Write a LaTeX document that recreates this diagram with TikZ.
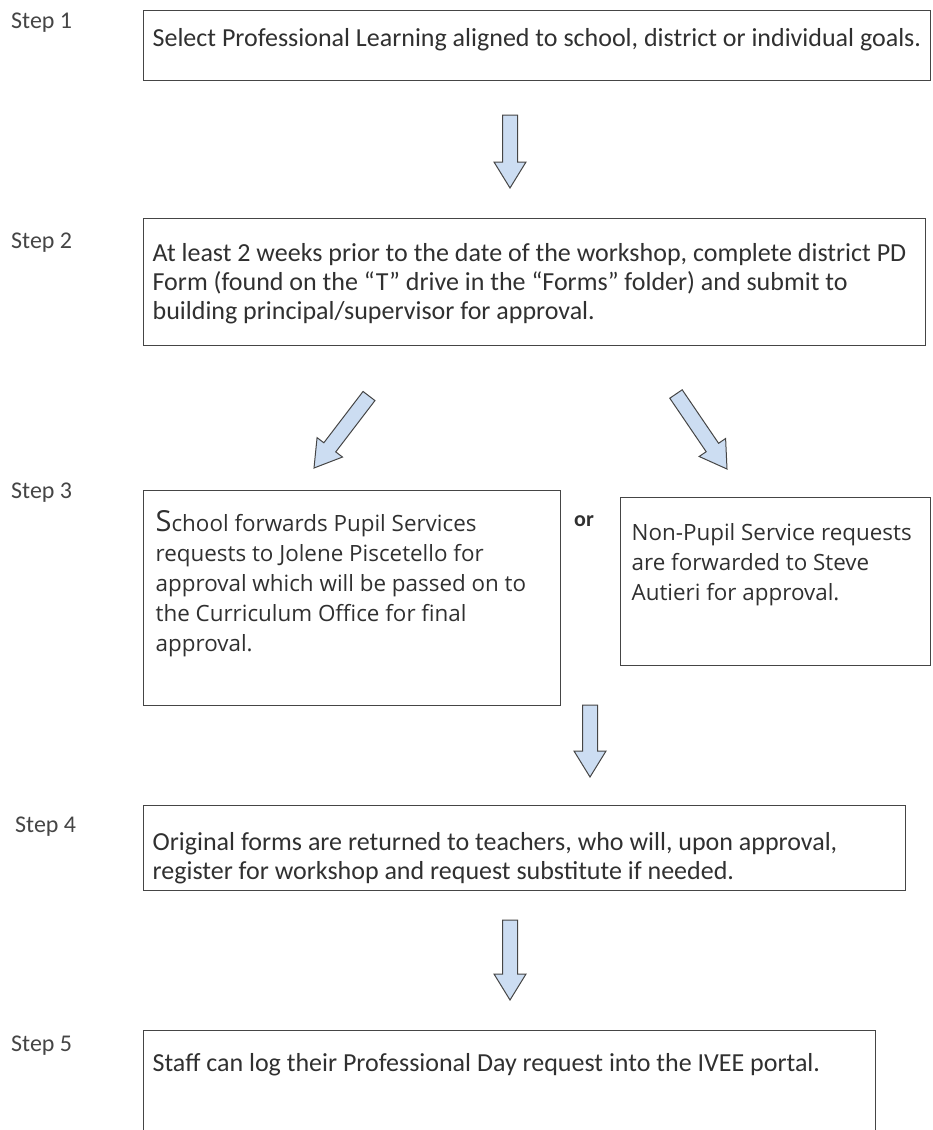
\documentclass[tikz,border=0pt]{standalone}
\usepackage{fontspec}
\setmainfont{Carlito}
\newfontfamily\wideface{Open Sans}
\usetikzlibrary{calc}
\definecolor{arrowfill}{HTML}{CCDDF2}
\definecolor{edgegray}{HTML}{454545}
\definecolor{inkgray}{HTML}{303030}
\tikzset{
  stepbox/.style={draw=edgegray, line width=1.3pt, inner sep=0pt, anchor=north west, text=inkgray},
  mainfont/.style={font=\fontsize{26}{29}\selectfont},
  sidefont/.style={font=\wideface\fontsize{22.4}{30}\selectfont},
  steplabel/.style={anchor=west, inner sep=0pt, font=\fontsize{24}{26}\selectfont, text=inkgray!90},
  blockarrow/.style={draw=edgegray, fill=arrowfill, line width=1pt, line join=miter},
  ortext/.style={anchor=west, inner sep=0pt, font=\bfseries\fontsize{22}{24}\selectfont, text=inkgray},
}
\newcommand{\bodytext}[5]{\parbox[c][#2][t]{#1}{\raggedright\leftskip=#3\relax\vspace*{#4}#5\par}}
\newcommand{\blockarr}[2]{%
  \coordinate (#1-h) at ($(#2)!26pt!(#1)$);
  \draw[blockarrow] ($(#1)!7.5pt!90:(#2)$) -- ($(#1-h)!7.5pt!90:(#2)$) -- ($(#1-h)!16pt!90:(#2)$) -- (#2)
    -- ($(#1-h)!16pt!-90:(#2)$) -- ($(#1-h)!7.5pt!-90:(#2)$) -- ($(#1)!7.5pt!-90:(#2)$) -- cycle;
}
\begin{document}
\begin{tikzpicture}[x=1pt,y=-1pt]
\useasboundingbox (0,0) rectangle (933,1130);
\clip (0,0) rectangle (933,1130);
% step labels
\node[steplabel] (l1) at (11,23) {Step 1};
\node[steplabel] (l2) at (11,243) {Step 2};
\node[steplabel] (l3) at (11,493) {Step 3};
\node[steplabel] (l4) at (15,827) {Step 4};
\node[steplabel] (l5) at (11,1046) {Step 5};
% boxes
\node[stepbox, mainfont] (b1) at (143,10)
  {\bodytext{787pt}{70pt}{9pt}{18pt}{Select Professional Learning aligned to school, district or individual goals.}};
\node[stepbox, mainfont] (b2) at (143,218)
  {\bodytext{782pt}{127pt}{9pt}{25pt}{At least 2 weeks prior to the date of the workshop, complete district PD\\
   Form (found on the “T” drive in the “Forms” folder) and submit to\\
   building principal/supervisor for approval.}};
\node[stepbox, sidefont] (b3a) at (143,490)
  {\bodytext{417pt}{215pt}{12pt}{20pt}{{\fontsize{29}{30}\selectfont S}chool forwards Pupil Services\\
   requests to Jolene Piscetello for\\
   approval which will be passed on to\\
   the Curriculum Office for final\\
   approval.}};
\node[ortext] (or) at (574,521) {or};
\node[stepbox, sidefont] (b3b) at (620,497)
  {\bodytext{310pt}{168pt}{11pt}{26pt}{Non-Pupil Service requests\\
   are forwarded to Steve\\
   Autieri for approval.}};
\node[stepbox, mainfont] (b4) at (143,805)
  {\bodytext{762pt}{85pt}{9pt}{27pt}{Original forms are returned to teachers, who will, upon approval,\\
   register for workshop and request substitute if needed.}};
\node[stepbox, mainfont] (b5) at (143,1030)
  {\bodytext{732pt}{120pt}{9pt}{23pt}{Staff can log their Professional Day request into the IVEE portal.}};
% arrows
\coordinate (a1s) at (510,115); \coordinate (a1e) at (510,188);
\coordinate (a2s) at (369,396); \coordinate (a2e) at (314,468);
\coordinate (a3s) at (676,394); \coordinate (a3e) at (727,469);
\coordinate (a4s) at (590,705); \coordinate (a4e) at (590,777);
\coordinate (a5s) at (510,920); \coordinate (a5e) at (510,1000);
\blockarr{a1s}{a1e}
\blockarr{a2s}{a2e}
\blockarr{a3s}{a3e}
\blockarr{a4s}{a4e}
\blockarr{a5s}{a5e}
\end{tikzpicture}
\end{document}
